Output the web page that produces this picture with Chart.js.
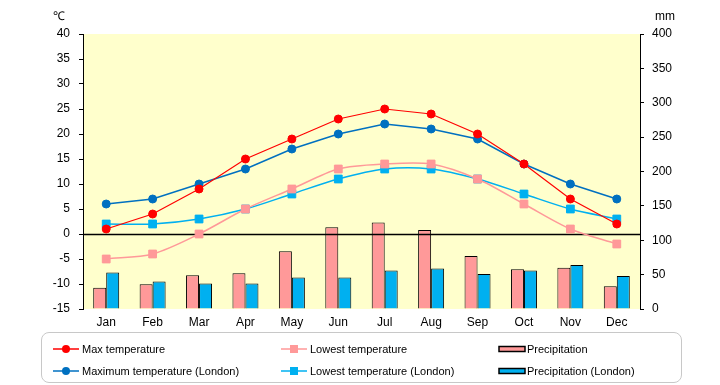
<!DOCTYPE html>
<html>
<head>
<meta charset="utf-8">
<script src="https://cdn.jsdelivr.net/npm/chart.js@4.4.0/dist/chart.umd.min.js"></script>
<style>
    body { margin: 0; background: #fff; }
    #wrap { position: relative; width: 720px; height: 385px; font-family: 'Liberation Sans', Arial, sans-serif; color: #000; }
    #myChart { position: absolute; left: 0; top: 0; }
    .unit { position: absolute; font-size: 12px; line-height: 12px; }
    #legend { position: absolute; left: 41px; top: 332px; width: 639px; height: 49px; border: 1.5px solid #c8c8c8; border-radius: 8px; }
    .item { position: absolute; font-size: 11px; line-height: 12px; white-space: nowrap; }
    .item svg { position: absolute; left: 0; top: -1px; }
    .item span { position: absolute; top: 0; }
</style>
</head>
<body>
<div id="wrap">
    <canvas id="myChart" width="720" height="385"></canvas>
    <div class="unit" style="left:53px; top:10px;">℃</div>
    <div class="unit" style="left:655px; top:10px;">mm</div>
    <div id="legend"></div>
</div>
<script>
var months = ['Jan', 'Feb', 'Mar', 'Apr', 'May', 'Jun', 'Jul', 'Aug', 'Sep', 'Oct', 'Nov', 'Dec'];

var maxTemp = [1, 4, 9, 15, 19, 23, 25, 24, 20, 14, 7, 2];
var lowTemp = [-5, -4, 0, 5, 9, 13, 14, 14, 11, 6, 1, -2];
var maxTempLondon = [6, 7, 10, 13, 17, 20, 22, 21, 19, 14, 10, 7];
var lowTempLondon = [2, 2, 3, 5, 8, 11, 13, 13, 11, 8, 5, 3];
var precip = [31, 36, 49, 52, 84, 119, 126, 115, 77, 58, 60, 33];
var precipLondon = [53, 40, 37, 37, 46, 46, 56, 59, 51, 56, 64, 48];

var seriesNames = ['Max temperature', 'Lowest temperature', 'Precipitation',
    'Maximum temperature (London)', 'Lowest temperature (London)', 'Precipitation (London)'];

// temperature axis (left) and precipitation axis (right)
var tempMin = -15, tempMax = 40, tempStep = 5;
var rainMin = 0, rainMax = 400, rainStep = 50;

var tickFont = { family: "'Liberation Sans', Arial, sans-serif", size: 12 };

// plot background
var bgPlugin = {
    id: 'plotBg',
    beforeDraw: function (chart) {
        var a = chart.chartArea, ctx = chart.ctx;
        ctx.save();
        ctx.fillStyle = '#FFFFCC';
        ctx.fillRect(a.left, a.top, a.right - a.left, a.bottom - a.top);
        ctx.restore();
    }
};

// zero line: over the bars, under the lines
var zeroDone = false;
var zeroPlugin = {
    id: 'zeroLine',
    beforeDatasetsDraw: function () { zeroDone = false; },
    beforeDatasetDraw: function (chart, args) {
        if (zeroDone || args.meta.type !== 'line') return;
        zeroDone = true;
        var a = chart.chartArea, ctx = chart.ctx;
        var y = Math.round(chart.scales.y.getPixelForValue(0)) + 0.5;
        ctx.save();
        ctx.strokeStyle = '#000';
        ctx.lineWidth = 1.5;
        ctx.beginPath();
        ctx.moveTo(a.left, y);
        ctx.lineTo(a.right, y);
        ctx.stroke();
        ctx.restore();
    }
};

function lineSet(label, data, color, style, radius, width, tension) {
    return {
        type: 'line', label: label, data: data, yAxisID: 'y', order: 1,
        borderColor: color, backgroundColor: color, borderWidth: width,
        pointStyle: style, pointRadius: radius, pointBorderWidth: 1,
        pointBackgroundColor: color, pointBorderColor: color, tension: tension
    };
}

function barSet(label, data, color) {
    return {
        type: 'bar', label: label, data: data, yAxisID: 'y1', order: 2,
        backgroundColor: color, borderColor: '#000', borderWidth: 1,
        barPercentage: 1, categoryPercentage: 0.56
    };
}

var ctx = document.getElementById('myChart').getContext('2d');
var myChart = new Chart(ctx, {
    data: {
        labels: months,
        datasets: [
            lineSet(seriesNames[0], maxTemp, '#FF0000', 'circle', 4, 1.2, 0),
            lineSet(seriesNames[3], maxTempLondon, '#0070C0', 'circle', 4, 1.5, 0),
            lineSet(seriesNames[1], lowTemp, '#FF9999', 'rect', 5.5, 1.5, 0.3),
            lineSet(seriesNames[4], lowTempLondon, '#00B0F0', 'rect', 5.5, 1.5, 0.3),
            barSet(seriesNames[2], precip, '#FF9999'),
            barSet(seriesNames[5], precipLondon, '#00B0F0')
        ]
    },
    options: {
        responsive: false,
        devicePixelRatio: 1,
        animation: false,
        layout: { padding: { top: 34, bottom: 46, left: 0, right: 0 } },
        plugins: { legend: { display: false }, tooltip: { enabled: false } },
        scales: {
            x: {
                grid: { display: false, drawTicks: false },
                border: { display: false },
                ticks: { color: '#000', font: tickFont, padding: 6, maxRotation: 0 },
                afterFit: function (s) { s.height = 30; }
            },
            y: {
                position: 'left', min: tempMin, max: tempMax,
                ticks: { stepSize: tempStep, color: '#000', font: tickFont, padding: 9 },
                grid: { drawOnChartArea: false, tickLength: 4, tickColor: '#000' },
                border: { color: '#000', width: 1 },
                afterFit: function (s) { s.width = 83; }
            },
            y1: {
                position: 'right', min: rainMin, max: rainMax,
                ticks: { stepSize: rainStep, color: '#000', font: tickFont, padding: 8 },
                grid: { drawOnChartArea: false, tickLength: 4, tickColor: '#000' },
                border: { color: '#000', width: 1 },
                afterFit: function (s) { s.width = 80; }
            }
        }
    },
    plugins: [bgPlugin, zeroPlugin]
});

// legend in three columns, two rows
function markerSvg(kind, color) {
    if (kind === 'bar') {
        return '<svg width="28" height="14"><rect x="1" y="4.5" width="26" height="5" fill="' + color +
            '" stroke="#000" stroke-width="1.5"/></svg>';
    }
    var mark = kind === 'circle'
        ? '<circle cx="14" cy="7" r="4" fill="' + color + '"/>'
        : '<rect x="10" y="3" width="8" height="8" fill="' + color + '"/>';
    return '<svg width="28" height="14"><line x1="1" y1="7" x2="27" y2="7" stroke="' + color +
        '" stroke-width="1.5"/>' + mark + '</svg>';
}

var legendItems = [
    { name: seriesNames[0], kind: 'circle', color: '#FF0000', x: 10, y: 10, tx: 40 },
    { name: seriesNames[1], kind: 'rect', color: '#FF9999', x: 238, y: 10, tx: 268 },
    { name: seriesNames[2], kind: 'bar', color: '#FF9999', x: 456, y: 10, tx: 485 },
    { name: seriesNames[3], kind: 'circle', color: '#0070C0', x: 10, y: 32, tx: 40 },
    { name: seriesNames[4], kind: 'rect', color: '#00B0F0', x: 238, y: 32, tx: 268 },
    { name: seriesNames[5], kind: 'bar', color: '#00B0F0', x: 456, y: 32, tx: 485 }
];
var legend = document.getElementById('legend');
legendItems.forEach(function (it) {
    var d = document.createElement('div');
    d.className = 'item';
    d.style.left = it.x + 'px';
    d.style.top = it.y + 'px';
    d.innerHTML = markerSvg(it.kind, it.color) + '<span style="left:' + (it.tx - it.x) + 'px">' + it.name + '</span>';
    legend.appendChild(d);
});
</script>
</body>
</html>
